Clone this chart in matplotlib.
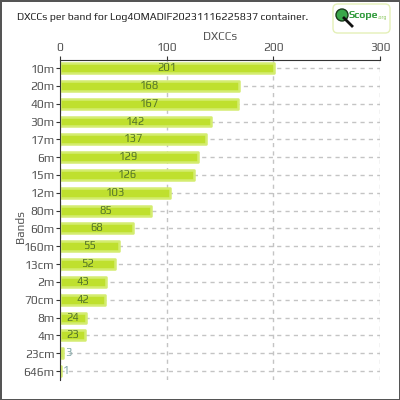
import matplotlib
matplotlib.use("Agg")
import matplotlib.pyplot as plt
from matplotlib.patches import FancyBboxPatch, Circle
from matplotlib.lines import Line2D

plt.rcParams['font.family'] = ['Play', 'DejaVu Sans']

# data
bands = ["10m", "20m", "40m", "30m", "17m", "6m", "15m", "12m", "80m", "60m",
         "160m", "13cm", "2m", "70cm", "8m", "4m", "23cm", "646m"]
dxccs = [201, 168, 167, 142, 137, 129, 126, 103, 85, 68,
         55, 52, 43, 42, 24, 23, 3, 1]
xticks = [0, 100, 200, 300]

BAR = "#bfe02e"
EDGE = "#d4ec70"

fig = plt.figure(figsize=(4, 4), dpi=100, edgecolor="#555555", linewidth=2)
ax = fig.add_axes([0.15, 0.05, 0.80, 0.80])

ypos = list(range(len(bands)))
ax.barh(ypos, dxccs, height=0.56, color=BAR, edgecolor=EDGE,
        linewidth=1.8, joinstyle="round", zorder=2)

for y, v in zip(ypos, dxccs):
    if v >= 10:
        ax.text(v / 2, y, str(v), ha="center", va="center",
                fontsize=8, color="#55752a", zorder=4)
    else:
        ax.text(v + 1.5, y, str(v), ha="left", va="center",
                fontsize=8, color="#7fa5a5", zorder=4)

ax.set_xlim(0, 300)
ax.set_ylim(len(bands) - 0.5, -0.45)
ax.set_xticks(xticks)
ax.set_yticks(ypos)
ax.set_yticklabels(bands)
ax.xaxis.tick_top()
ax.xaxis.set_label_position("top")
ax.set_xlabel("DXCCs", fontsize=8.5, color="#555555", labelpad=2)
ax.set_ylabel("Bands", fontsize=8.5, color="#555555")
ax.yaxis.set_label_coords(-0.103, 0.48)
ax.tick_params(axis="both", labelsize=8.5, colors="#333333", labelcolor="#555555",
               length=3, pad=1)

ax.grid(True, linestyle=(0, (3, 3)), color="#c4c4c4", linewidth=1, zorder=1)
ax.set_axisbelow(True)
for s in ["right", "bottom"]:
    ax.spines[s].set_visible(False)
ax.spines["top"].set_color("#333333")
ax.spines["left"].set_color("#333333")
ax.spines["top"].set_zorder(5)
ax.spines["left"].set_zorder(5)

fig.text(17 / 400, 1 - 17 / 400, "DXCCs per band for Log4OMADIF20231116225837 container.",
         fontsize=7.6, color="#222222", ha="left", va="center")

# logo
fig.patches.append(FancyBboxPatch((333 / 400, 1 - 33 / 400), 57 / 400, 29 / 400,
                                  boxstyle="round,pad=0,rounding_size=0.012",
                                  transform=fig.transFigure, facecolor="white",
                                  edgecolor="#e4f0b8", linewidth=1))
fig.lines.append(Line2D([344 / 400, 352 / 400], [1 - 18 / 400, 1 - 26 / 400],
                        transform=fig.transFigure, color="#111111", linewidth=2))
fig.patches.append(Circle((342 / 400, 1 - 15 / 400), 6 / 400, transform=fig.transFigure,
                          facecolor="#3aa84a", edgecolor="#1a3a1a", linewidth=1))
fig.text(349 / 400, 1 - 15 / 400, "Scope", fontsize=7.5, color="#2f9a3a",
         fontweight="bold", ha="left", va="center")
fig.text(378 / 400, 1 - 17 / 400, ".org", fontsize=3.8, color="#8cc860",
         ha="left", va="center")

fig.savefig("out.png", dpi=100)
